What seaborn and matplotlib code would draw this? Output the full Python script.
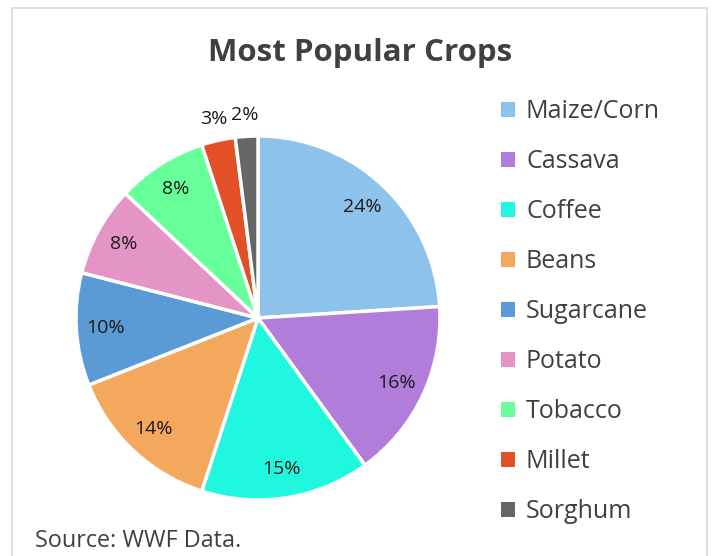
import matplotlib
matplotlib.use("Agg")
import matplotlib.pyplot as plt
from matplotlib.patches import Patch, Rectangle
import numpy as np
import seaborn as sns

crops = ["Maize/Corn", "Cassava", "Coffee", "Beans", "Sugarcane",
         "Potato", "Tobacco", "Millet", "Sorghum"]
shares = [24, 16, 15, 14, 10, 8, 8, 3, 2]
slice_colors = ["#8DC3EB", "#B07EDA", "#20F7DF", "#F4A85E", "#5B9BD5",
                "#E495C6", "#66FF99", "#E34F26", "#666666"]

sns.set_theme(style="white")
plt.rcParams["font.family"] = ["Open Sans", "DejaVu Sans"]
palette = sns.color_palette(slice_colors)

W, H = 712, 556
fig = plt.figure(figsize=(W / 100, H / 100), dpi=100)

# chart frame
fig.patches.append(Rectangle((12 / W, -0.01), 695 / W, 1 - 8 / H + 0.01,
                             transform=fig.transFigure, fill=False,
                             edgecolor="#D9D9D9", linewidth=1.2))

cx, cy, r = 258, 318, 182
ax = fig.add_axes([(cx - r) / W, (H - cy - r) / H, 2 * r / W, 2 * r / H])
wedges, _ = ax.pie(shares, colors=palette, startangle=90, counterclock=False,
                   wedgeprops=dict(edgecolor="white", linewidth=2.5))
ax.set_xlim(-1, 1)
ax.set_ylim(-1, 1)
ax.set_aspect("equal")
ax.axis("off")

# percentage labels: inside for larger slices, just outside for the slivers
for w, v in zip(wedges, shares):
    ang = np.deg2rad((w.theta1 + w.theta2) / 2)
    d = 0.84 if v >= 5 else 1.12
    ax.text(d * np.cos(ang), d * np.sin(ang), f"{v}%", ha="center",
            va="center", fontsize=14, color="#1A1A1A", clip_on=False)

fig.text(360 / W, 1 - 53 / H, "Most Popular Crops", ha="center",
         va="center", fontsize=22.5, fontweight="bold", color="#404040")

handles = [Patch(facecolor=c, edgecolor="none") for c in palette]
fig.legend(handles, crops, loc="upper left",
           bbox_to_anchor=(491 / W, 1 - 89 / H), frameon=False,
           fontsize=18, labelcolor="#404040", handlelength=0.55,
           handleheight=0.55, handletextpad=0.45, labelspacing=1.0,
           borderaxespad=0)

fig.text(35 / W, 1 - 541 / H, "Source: WWF Data.", ha="left", va="center",
         fontsize=16.8, color="#404040")

fig.savefig("out.png", dpi=100)
